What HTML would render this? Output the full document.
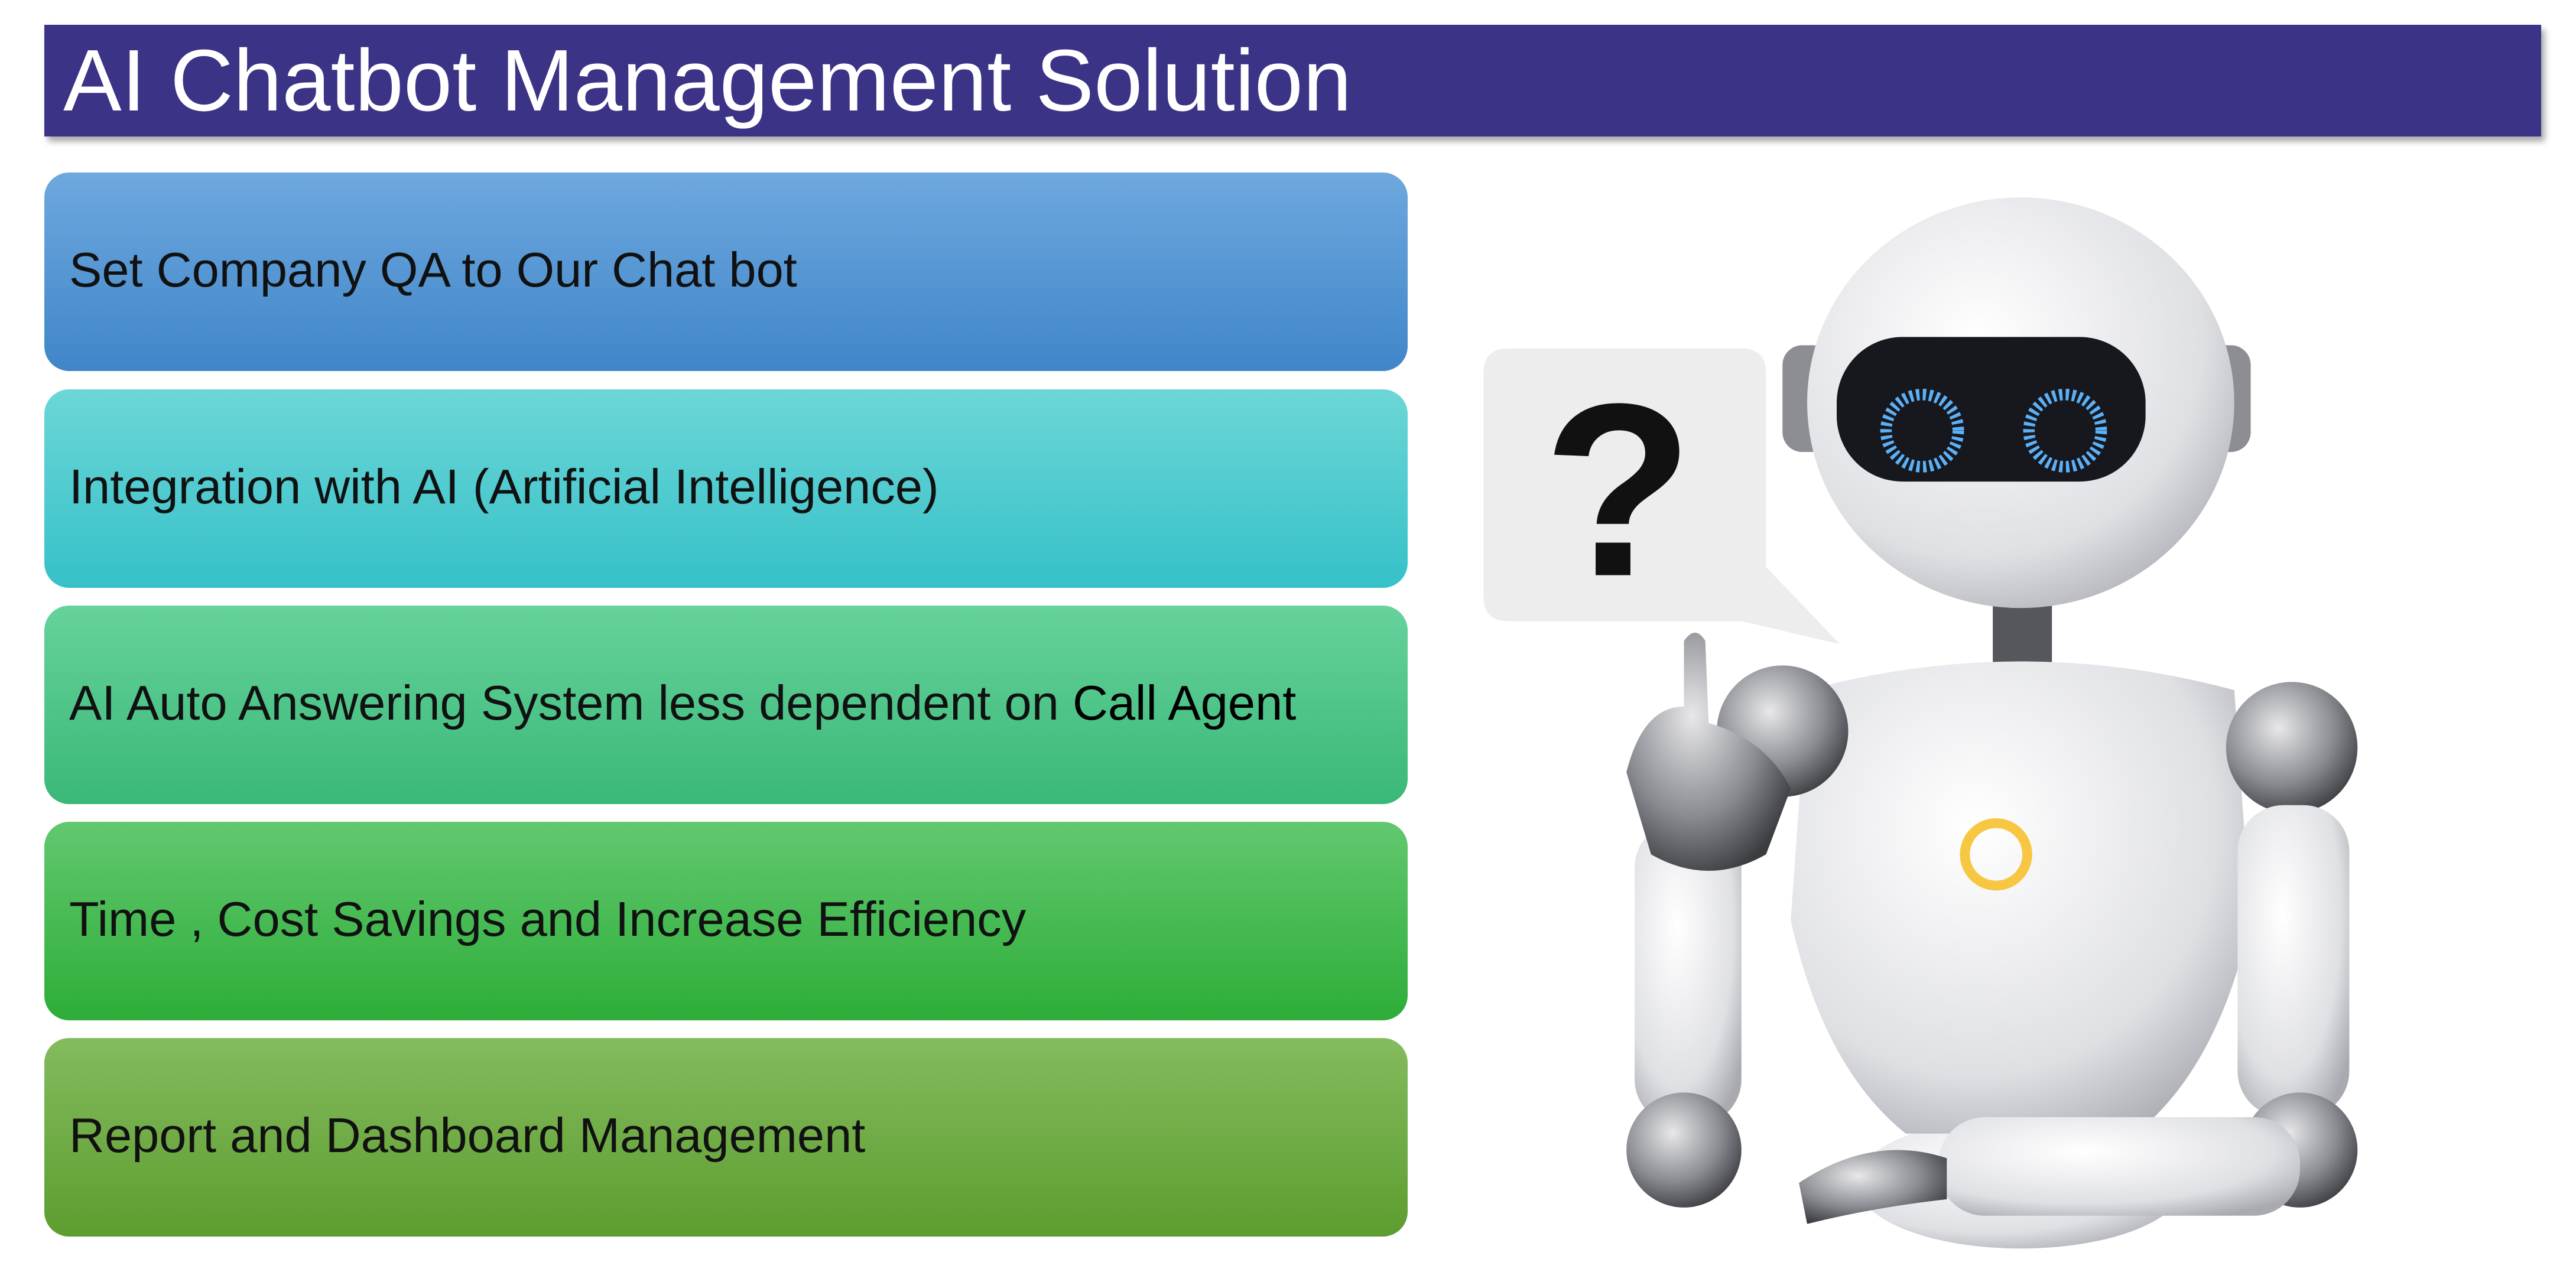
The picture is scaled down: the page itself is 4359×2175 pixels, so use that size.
<!DOCTYPE html>
<html><head><meta charset="utf-8"><style>
html,body{margin:0;padding:0;background:#fff;}
body{width:4359px;height:2175px;position:relative;overflow:hidden;font-family:"Liberation Sans",sans-serif;}
.title{position:absolute;left:75px;top:42px;width:4225px;height:189px;background:#3a3386;box-shadow:6px 8px 10px rgba(0,0,0,0.35);color:#fff;font-size:148px;line-height:189px;padding-left:32px;box-sizing:border-box;}
.box{position:absolute;left:75px;width:2307px;height:336px;border-radius:42px;color:#111;font-size:83px;line-height:330px;padding-left:42px;box-sizing:border-box;}
</style></head><body>
<div class="title">AI Chatbot Management Solution</div>
<div class="box" style="top:292px;background:linear-gradient(#6ea8de,#3f86c9);">Set Company QA to Our Chat bot</div>
<div class="box" style="top:659px;background:linear-gradient(#6cd6d6,#36c1c9);">Integration with AI (Artificial Intelligence)</div>
<div class="box" style="top:1025px;background:linear-gradient(#66d29c,#3ab877);">AI Auto Answering System less dependent on <span style="color:#000">Call Agent</span></div>
<div class="box" style="top:1391px;background:linear-gradient(#62c86f,#2dad38);">Time , Cost Savings and Increase Efficiency</div>
<div class="box" style="top:1757px;background:linear-gradient(#84bb5e,#5d9d2f);">Report and Dashboard Management</div>
<svg style="position:absolute;left:0;top:0" width="4359" height="2175" viewBox="0 0 1568 782">
<defs>
<radialGradient id="w" cx="40%" cy="35%" r="75%"><stop offset="0" stop-color="#ffffff"/><stop offset="0.7" stop-color="#dfe0e4"/><stop offset="1" stop-color="#a8aab0"/></radialGradient>
<radialGradient id="m" cx="40%" cy="35%" r="70%"><stop offset="0" stop-color="#e8e8ea"/><stop offset="0.6" stop-color="#8a8c92"/><stop offset="1" stop-color="#3a3c40"/></radialGradient>
</defs>
<path d="M918 212 H1060 Q1075 212 1075 227 V345 L1120 392 L1060 378 H918 Q903 378 903 363 V227 Q903 212 918 212Z" fill="#ededee"/>
<text x="985" y="350" font-size="150" font-weight="bold" text-anchor="middle" font-family="Liberation Sans, sans-serif" fill="#111">?</text>
<rect x="1213" y="360" width="36" height="45" fill="#55575c"/>
<ellipse cx="1230" cy="720" rx="100" ry="40" fill="url(#w)"/>
<path d="M1100 420 Q1230 385 1360 420 L1370 560 Q1350 650 1300 690 L1160 690 Q1110 650 1090 560Z" fill="url(#w)"/>
<circle cx="1215" cy="520" r="19" fill="none" stroke="#f7c744" stroke-width="6"/>
<circle cx="1085" cy="445" r="40" fill="url(#m)"/>
<circle cx="1395" cy="455" r="40" fill="url(#m)"/>
<rect x="995" y="500" width="65" height="185" rx="28" fill="url(#w)"/>
<rect x="1362" y="490" width="68" height="190" rx="28" fill="url(#w)"/>
<circle cx="1025" cy="700" r="35" fill="url(#m)"/>
<circle cx="1400" cy="700" r="35" fill="url(#m)"/>
<rect x="1180" y="680" width="220" height="60" rx="28" fill="url(#w)"/>
<path d="M1095 720 Q1140 690 1185 705 L1185 730 Q1140 735 1100 745Z" fill="url(#m)"/>
<path d="M990 470 Q1000 430 1025 430 L1025 390 Q1032 380 1038 390 L1040 440 Q1075 450 1090 480 L1075 520 Q1040 540 1005 520Z" fill="url(#m)"/>
<rect x="1085" y="210" width="30" height="65" rx="12" fill="#8c8e94"/>
<rect x="1340" y="210" width="30" height="65" rx="12" fill="#8c8e94"/>
<ellipse cx="1230" cy="245" rx="130" ry="125" fill="url(#w)"/>
<rect x="1118" y="205" width="188" height="88" rx="40" fill="#16181e"/>
<circle cx="1170" cy="262" r="22" fill="none" stroke="#5cb0f5" stroke-width="7" stroke-dasharray="2 2"/>
<circle cx="1257" cy="262" r="22" fill="none" stroke="#5cb0f5" stroke-width="7" stroke-dasharray="2 2"/>
</svg>
</body></html>
